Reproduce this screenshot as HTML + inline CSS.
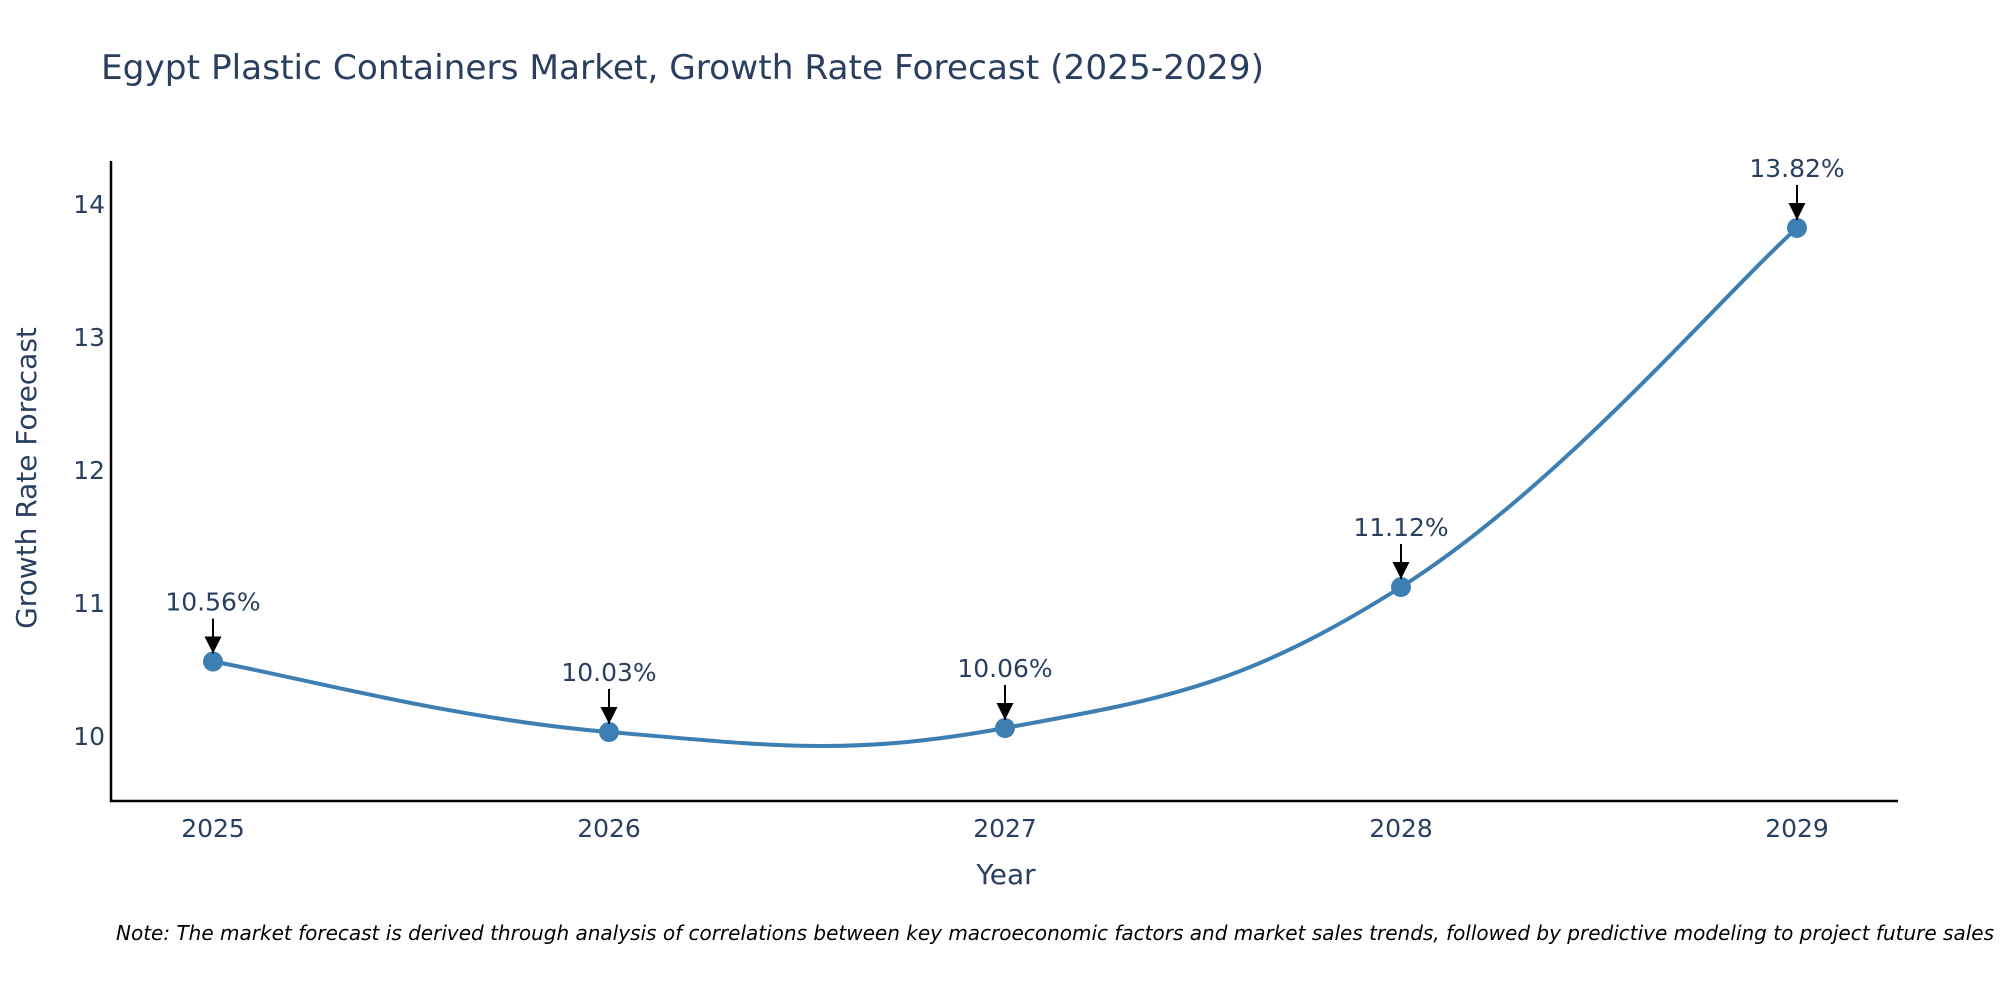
<!DOCTYPE html>
<html><head><meta charset="utf-8"><style>
html,body{margin:0;padding:0;background:#fff;}
svg{display:block;font-family:"DejaVu Sans","Liberation Sans",sans-serif;}
</style></head><body>
<svg id="chart" width="2000" height="1000" viewBox="0 0 2000 1000" xmlns="http://www.w3.org/2000/svg">
<defs>
<marker id="arr" viewBox="0 0 10 10" refX="10" refY="5" markerWidth="17" markerHeight="17" orient="auto" markerUnits="userSpaceOnUse"><path d="M0,0 L10,5 L0,10 z" fill="#000"/></marker></defs>
<text x="101" y="79" font-size="34" fill="#2a3f5f" textLength="1163" lengthAdjust="spacingAndGlyphs">Egypt Plastic Containers Market, Growth Rate Forecast (2025-2029)</text>
<g id="yticks"></g>
<g id="xticks"></g>
<path id="line" fill="none" stroke="#3d7fb3" stroke-width="4"/>
<g id="pts"></g>
<g id="ann"></g>
<line x1="111" y1="161" x2="111" y2="802" stroke="#000" stroke-width="2.5"/>
<line x1="110" y1="801" x2="1898" y2="801" stroke="#000" stroke-width="2.5"/>
<text x="1006" y="884" font-size="28" fill="#2a3f5f" text-anchor="middle">Year</text>
<text transform="translate(36,478) rotate(-90)" font-size="28" fill="#2a3f5f" text-anchor="middle">Growth Rate Forecast</text>
<text x="116" y="940" font-size="20" font-style="italic" fill="#000" textLength="1878" lengthAdjust="spacingAndGlyphs">Note: The market forecast is derived through analysis of correlations between key macroeconomic factors and market sales trends, followed by predictive modeling to project future sales</text>
</svg>
<script>
const years = [2025, 2026, 2027, 2028, 2029];
const values = [10.56, 10.03, 10.06, 11.12, 13.82];
const labels = ["10.56%", "10.03%", "10.06%", "11.12%", "13.82%"];
const yTicks = [10, 11, 12, 13, 14];
const NS = "http://www.w3.org/2000/svg";
const xS = v => 213 + (v - 2025) * 396;
const yS = v => 736 - (v - 10) * 133;
function mk(tag, attrs, parent){const e=document.createElementNS(NS,tag);for(const k in attrs)e.setAttribute(k,attrs[k]);parent.appendChild(e);return e;}
const yt=document.getElementById('yticks');
yTicks.forEach(t=>{const e=mk('text',{x:105,y:yS(t)+9,'font-size':25,fill:'#2a3f5f','text-anchor':'end'},yt);


e.textContent=t;});
const xt=document.getElementById('xticks');
years.forEach(t=>{const e=mk('text',{x:xS(t),y:837,'font-size':25,fill:'#2a3f5f','text-anchor':'middle'},xt);


e.textContent=t;});
const P=years.map((y,i)=>[xS(y),yS(values[i])]);
let d=`M${P[0][0]},${P[0][1]}`;
for(let i=0;i<P.length-1;i++){const p0=P[Math.max(i-1,0)],p1=P[i],p2=P[i+1],p3=P[Math.min(i+2,P.length-1)];
const k=1/5;
const c1=[p1[0]+(p2[0]-p0[0])*k,p1[1]+(p2[1]-p0[1])*k],c2=[p2[0]-(p3[0]-p1[0])*k,p2[1]-(p3[1]-p1[1])*k];
d+=` C${c1[0]},${c1[1]} ${c2[0]},${c2[1]} ${p2[0]},${p2[1]}`;}
document.getElementById('line').setAttribute('d',d);
const pts=document.getElementById('pts'),ann=document.getElementById('ann');
P.forEach((p,i)=>{const c=mk('circle',{cx:p[0],cy:p[1],r:10,fill:'#3d7fb3'},pts);


const l=mk('line',{x1:p[0],y1:p[1]-43,x2:p[0],y2:p[1]-8,stroke:'#000','stroke-width':2,'marker-end':'url(#arr)'},ann);


const t=mk('text',{x:p[0],y:p[1]-51,'font-size':25,fill:'#2a3f5f','text-anchor':'middle'},ann);


t.textContent=labels[i];});
</script>
</body></html>
